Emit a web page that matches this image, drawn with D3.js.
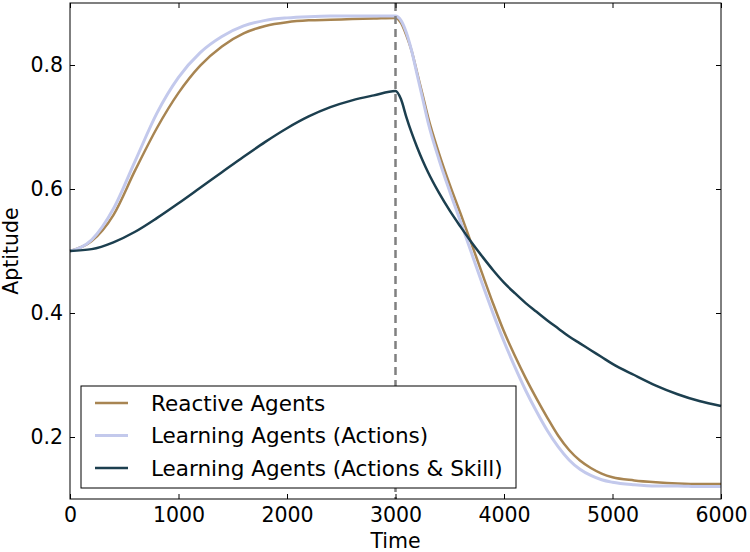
<!DOCTYPE html>
<html lang="en">
  <head>
    <meta charset="UTF-8" />
    <title>Aptitude over Time</title>
    <style>
      body { margin: 0; background: #fff; }
      svg text { font-family: "DejaVu Sans", sans-serif; fill: #000; }
    </style>
  </head>
  <body>
    <svg id="svg" width="750" height="552"></svg>
    <script src="https://cdn.jsdelivr.net/npm/d3@7"></script>
    <script>
      // Sample times shared by all series
      const times = [
        0, 200, 400, 600, 800, 1000, 1200, 1400, 1600, 1800, 2000, 2200, 2400, 2600, 2800, 3000,
        3050, 3100, 3150, 3200, 3250,
        3300, 3400, 3500, 3600, 3700, 3800, 3900, 4000, 4100, 4200, 4300, 4400, 4500, 4600, 4700, 4800, 4900, 5000,
        5200, 5400, 5600, 5800, 6000
      ];

      const reactive = [
        0.500, 0.516, 0.558, 0.630, 0.698, 0.755, 0.799, 0.830, 0.851, 0.863, 0.869, 0.872, 0.873, 0.874, 0.875, 0.876,
        0.868, 0.848, 0.822, 0.787, 0.752,
        0.716, 0.658, 0.607, 0.560, 0.512, 0.463, 0.415, 0.370, 0.331, 0.295, 0.262, 0.231, 0.202, 0.179, 0.162, 0.150, 0.141, 0.135,
        0.130, 0.127, 0.125, 0.124, 0.124
      ];

      const learningActions = [
        0.500, 0.518, 0.568, 0.645, 0.722, 0.780, 0.820, 0.846, 0.863, 0.872, 0.876, 0.878, 0.879, 0.879, 0.879, 0.879,
        0.872, 0.852, 0.822, 0.784, 0.746,
        0.708, 0.648, 0.596, 0.547, 0.497, 0.447, 0.399, 0.354, 0.313, 0.275, 0.241, 0.210, 0.184, 0.163, 0.148, 0.138, 0.131, 0.127,
        0.123, 0.121, 0.121, 0.120, 0.120
      ];

      const learningSkill = [
        0.500, 0.503, 0.514, 0.531, 0.553, 0.577, 0.602, 0.627, 0.652, 0.676, 0.698, 0.717, 0.732, 0.743, 0.751, 0.758,
        0.745, 0.716, 0.690, 0.667, 0.646,
        0.627, 0.594, 0.565, 0.539, 0.514, 0.491, 0.469, 0.449, 0.432, 0.416, 0.402, 0.388, 0.375, 0.362, 0.351, 0.340, 0.329, 0.318,
        0.300, 0.283, 0.269, 0.258, 0.250
      ];

      const seriesNames = ["Reactive Agents", "Learning Agents (Actions)", "Learning Agents (Actions & Skill)"];
      const seriesValues = [reactive, learningActions, learningSkill];
      const colors = ["#a88552", "#c3c9ec", "#1c3f4f"];
      const widths = [2.5, 3, 2.5];

      const xTicks = [0, 1000, 2000, 3000, 4000, 5000, 6000];
      const yTicks = [0.2, 0.4, 0.6, 0.8];
      const switchTime = 3000;

      const margin = { top: 3, right: 29, bottom: 53, left: 70 };
      const width = 750 - margin.left - margin.right;
      const height = 552 - margin.top - margin.bottom;

      const svg = d3.select("#svg");
      const g = svg.append("g").attr("transform", `translate(${margin.left},${margin.top})`);

      const x = d3.scaleLinear().domain([0, 6000]).range([0, width]);
      const y = d3.scaleLinear().domain([0.1, 0.9]).range([height, 0]);

      // lines
      const line = d3
        .line()
        .x((d) => x(d[0]))
        .y((d) => y(d[1]))
        .curve(d3.curveMonotoneX);

      seriesValues.forEach((vals, i) => {
        g.append("path")
          .datum(times.map((t, j) => [t, vals[j]]))
          .attr("fill", "none")
          .attr("stroke", colors[i])
          .attr("stroke-width", widths[i])
          .attr("stroke-linejoin", "round")
          .attr("d", line);
      });

      // switch marker
      g.append("line")
        .attr("x1", x(switchTime))
        .attr("x2", x(switchTime))
        .attr("y1", 0)
        .attr("y2", height)
        .attr("stroke", "#808080")
        .attr("stroke-width", 2.5)
        .attr("stroke-dasharray", "8,5");

      // axes, classic inward ticks on all sides
      const fontSize = "20.5px";
      const styleAxis = (sel) => {
        sel.select(".domain").remove();
        sel.selectAll(".tick line").attr("stroke", "#000");
        sel.selectAll("text").style("font-size", fontSize).attr("font-family", null);
      };

      g.append("g")
        .attr("transform", `translate(0,${height})`)
        .call(d3.axisBottom(x).tickValues(xTicks).tickFormat(d3.format("d")).tickSizeInner(-5).tickSizeOuter(0).tickPadding(8))
        .call(styleAxis);

      g.append("g")
        .call(d3.axisLeft(y).tickValues(yTicks).tickFormat(d3.format(".1f")).tickSizeInner(-5).tickSizeOuter(0).tickPadding(7))
        .call(styleAxis);

      g.append("g")
        .call(d3.axisTop(x).tickValues(xTicks).tickSizeInner(-5).tickSizeOuter(0).tickFormat(""))
        .call(styleAxis);

      g.append("g")
        .attr("transform", `translate(${width},0)`)
        .call(d3.axisRight(y).tickValues(yTicks).tickSizeInner(-5).tickSizeOuter(0).tickFormat(""))
        .call(styleAxis);

      // frame
      g.append("rect")
        .attr("width", width)
        .attr("height", height)
        .attr("fill", "none")
        .attr("stroke", "#000")
        .attr("stroke-width", 1);

      // axis labels
      svg.append("text")
        .attr("x", margin.left + width / 2)
        .attr("y", 548)
        .attr("text-anchor", "middle")
        .style("font-size", fontSize)
        .text("Time");

      svg.append("text")
        .attr("transform", `translate(18,${margin.top + height / 2}) rotate(-90)`)
        .attr("text-anchor", "middle")
        .style("font-size", fontSize)
        .text("Aptitude");

      // legend
      const legend = svg.append("g").attr("transform", "translate(81,386)");
      legend.append("rect")
        .attr("width", 435)
        .attr("height", 102)
        .attr("fill", "#fff")
        .attr("stroke", "#000")
        .attr("stroke-width", 1);

      seriesNames.forEach((name, i) => {
        const ly = 17 + i * 32.5;
        legend.append("line")
          .attr("x1", 14)
          .attr("x2", 47)
          .attr("y1", ly)
          .attr("y2", ly)
          .attr("stroke", colors[i])
          .attr("stroke-width", widths[i]);
        legend.append("text")
          .attr("x", 70)
          .attr("y", ly)
          .attr("dy", "0.35em")
          .style("font-size", "21.5px")
          .text(name);
      });
    </script>
  </body>
</html>
